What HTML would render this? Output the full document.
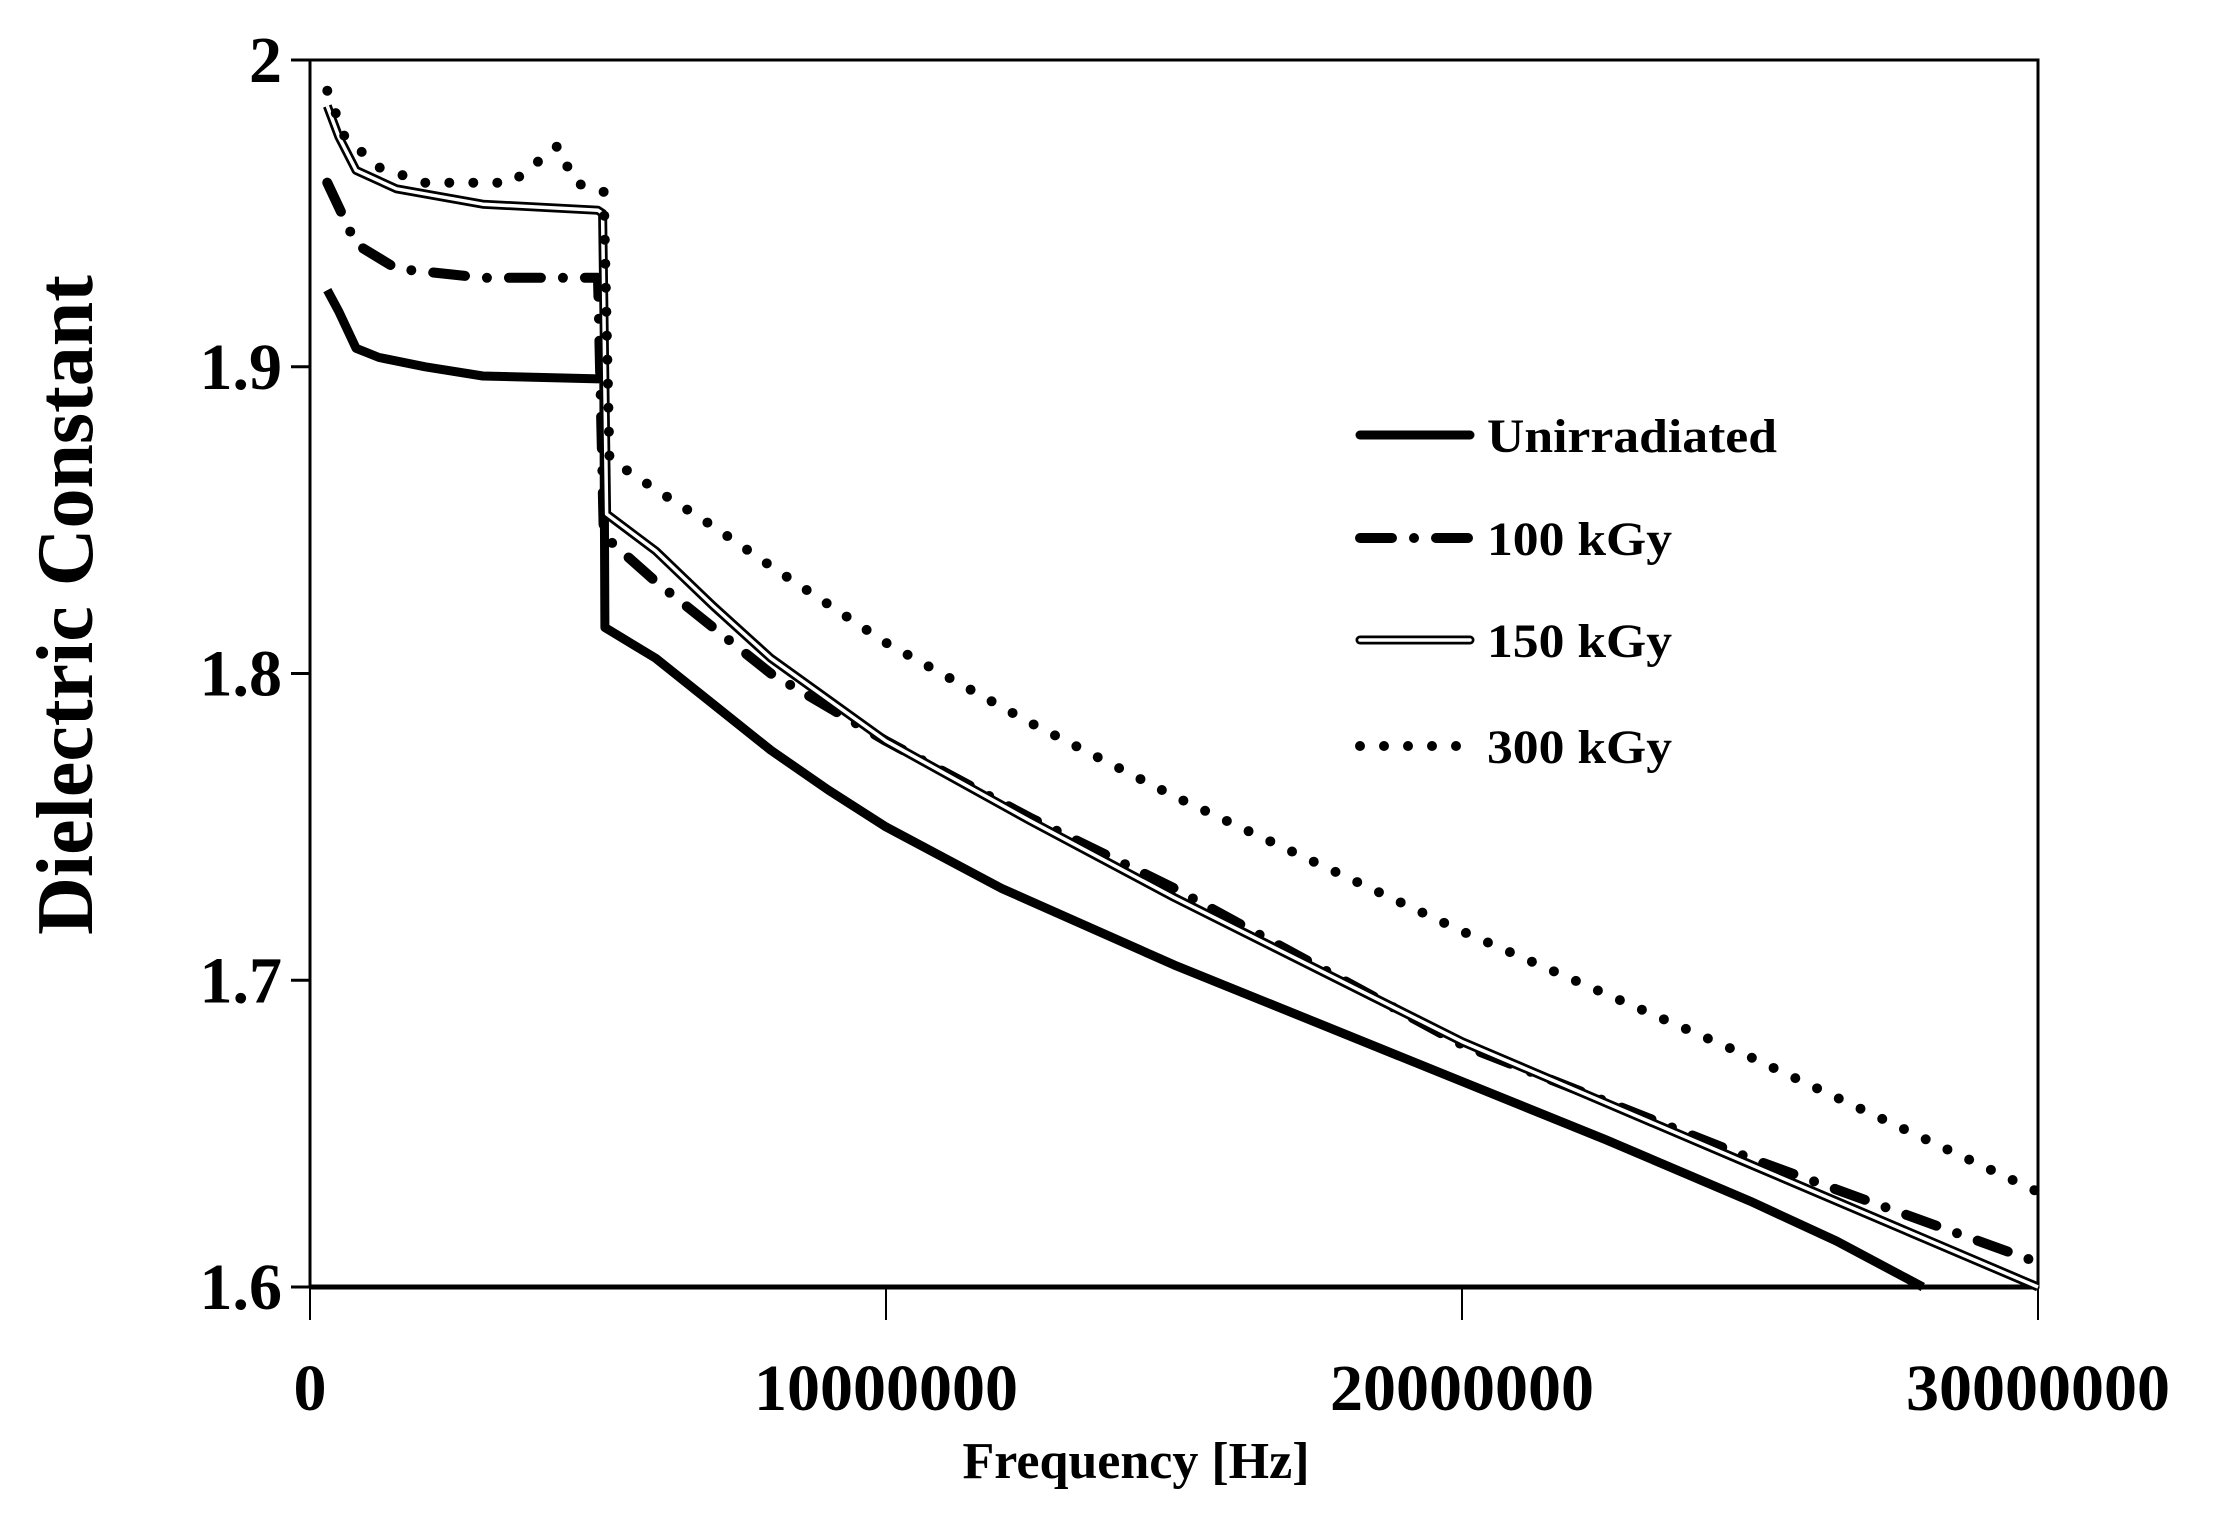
<!DOCTYPE html>
<html><head><meta charset="utf-8"><style>
html,body{margin:0;padding:0;background:#fff;}
svg{display:block;}
text{font-family:"Liberation Serif",serif;font-weight:bold;fill:#000;}
</style></head><body>
<svg id="chart" width="2215" height="1522" viewBox="0 0 2215 1522" xmlns="http://www.w3.org/2000/svg">
<g id="axes"></g>
<g id="series"></g>
<g id="legend"></g>
</svg>
<script>
const yTicks = [1.6, 1.7, 1.8, 1.9, 2];
const yTickLabels = ["1.6", "1.7", "1.8", "1.9", "2"];
const xTicks = [0, 10000000, 20000000, 30000000];
const xTickLabels = ["0", "10000000", "20000000", "30000000"];
const seriesNames = ["Unirradiated", "100 kGy", "150 kGy", "300 kGy"];
const freqU = [0.3e6,0.5e6,0.8e6,1.2e6,2e6,3e6,5.1e6,5.12e6,6e6,7e6,8e6,9e6,1e7,1.2e7,1.5e7,1.75e7,2e7,2.25e7,2.5e7,2.65e7,2.8e7];
const valU  = [1.925,1.918,1.906,1.903,1.9,1.897,1.896,1.815,1.805,1.79,1.775,1.762,1.75,1.73,1.705,1.686,1.667,1.648,1.628,1.615,1.6];
const freq100 = [0.3e6,0.8e6,1.5e6,3e6,5e6,5.1e6,6e6,7e6,8e6,1e7,1.25e7,1.5e7,2e7,2.5e7,3e7];
const val100  = [1.96,1.94,1.932,1.929,1.929,1.845,1.83,1.815,1.8,1.778,1.753,1.73,1.679,1.642,1.608];
const freq150 = [0.3e6,0.5e6,0.8e6,1.5e6,3e6,5e6,5.08e6,5.15e6,6e6,7e6,8e6,1e7,1.25e7,1.5e7,2e7,2.5e7,3e7];
const val150  = [1.985,1.975,1.964,1.958,1.953,1.951,1.95,1.852,1.84,1.822,1.805,1.778,1.752,1.727,1.68,1.64,1.6];
const freq300 = [0.3e6,0.6e6,1.2e6,2e6,3.5e6,4.3e6,4.6e6,5.1e6,5.2e6,6e6,7e6,8e6,1e7,1.25e7,1.5e7,2e7,2.5e7,3e7];
const val300  = [1.99,1.975,1.965,1.96,1.96,1.972,1.96,1.957,1.87,1.86,1.848,1.835,1.81,1.784,1.76,1.716,1.675,1.631];

const X0=310,X1=2038,Y0=1287,Y1=60;
const xs=v=>X0+(v-0)/3e7*(X1-X0);
const ys=v=>Y0-(v-1.6)/0.4*(Y0-Y1);
const NS="http://www.w3.org/2000/svg";
function mk(tag,attrs,parent){const e=document.createElementNS(NS,tag);for(const k in attrs)e.setAttribute(k,attrs[k]);parent.appendChild(e);return e;}
const axes=document.getElementById('axes');
let e;
e=mk('rect',{x:X0,y:Y1,width:X1-X0,height:Y0-Y1,fill:'none',stroke:'#000','stroke-width':3},axes);


e=mk('line',{x1:X0,y1:Y0,x2:X1,y2:Y0,stroke:'#000','stroke-width':5},axes);


yTicks.forEach((t,i)=>{
  const l=mk('line',{x1:291,y1:ys(t),x2:X0,y2:ys(t),stroke:'#000','stroke-width':3},axes);
  
  
  const tx=mk('text',{x:282,y:ys(t)+22,'text-anchor':'end','font-size':66},axes);
  tx.textContent=yTickLabels[i];
  
  
});
xTicks.forEach((t,i)=>{
  const l=mk('line',{x1:xs(t),y1:Y0,x2:xs(t),y2:1320,stroke:'#000','stroke-width':2},axes);
  
  
  const tx=mk('text',{x:xs(t),y:1410,'text-anchor':'middle','font-size':66},axes);
  tx.textContent=xTickLabels[i];
  
  
});
e=mk('text',{x:1136,y:1478,'text-anchor':'middle','font-size':52},axes);
e.textContent='Frequency [Hz]';


e=mk('text',{x:0,y:0,'text-anchor':'middle','font-size':80,transform:'translate(92,605) rotate(-90)'},axes);
e.textContent='Dielectric Constant';



const ser=document.getElementById('series');
function pathD(f,v){return f.map((x,i)=>(i?'L':'M')+xs(x).toFixed(1)+' '+ys(v[i]).toFixed(1)).join(' ');}
const styles=[
  [{stroke:'#000','stroke-width':9}],
  [{stroke:'#000','stroke-width':10,'stroke-dasharray':'32 22 0 22','stroke-linecap':'round'}],
  [{stroke:'#000','stroke-width':9},{stroke:'#fff','stroke-width':3.5}],
  [{stroke:'#000','stroke-width':10,'stroke-dasharray':'0 24','stroke-linecap':'round'}]
];
const data=[[freqU,valU],[freq100,val100],[freq150,val150],[freq300,val300]];
const names=['series-unirradiated','series-100kgy','series-150kgy','series-300kgy'];
data.forEach((d,i)=>{
  styles[i].forEach(s=>{
    const p=mk('path',Object.assign({d:pathD(d[0],d[1]),fill:'none','stroke-linejoin':'round'},s),ser);
    
    
  });
});
const leg=document.getElementById('legend');
const rowsY=[435,538,640,746];
const widths=[290,185,185,185];
seriesNames.forEach((n,i)=>{
  styles[i].forEach(s=>{
    const l=mk('line',Object.assign({x1:1360,y1:rowsY[i],x2:1470,y2:rowsY[i],'stroke-linecap':'round'},s),leg);
    
    
  });
  const t=mk('text',{x:1487,y:rowsY[i]+17,'font-size':48,textLength:widths[i],lengthAdjust:'spacingAndGlyphs'},leg);
  t.textContent=n;
  
  
});
</script>
</body></html>
